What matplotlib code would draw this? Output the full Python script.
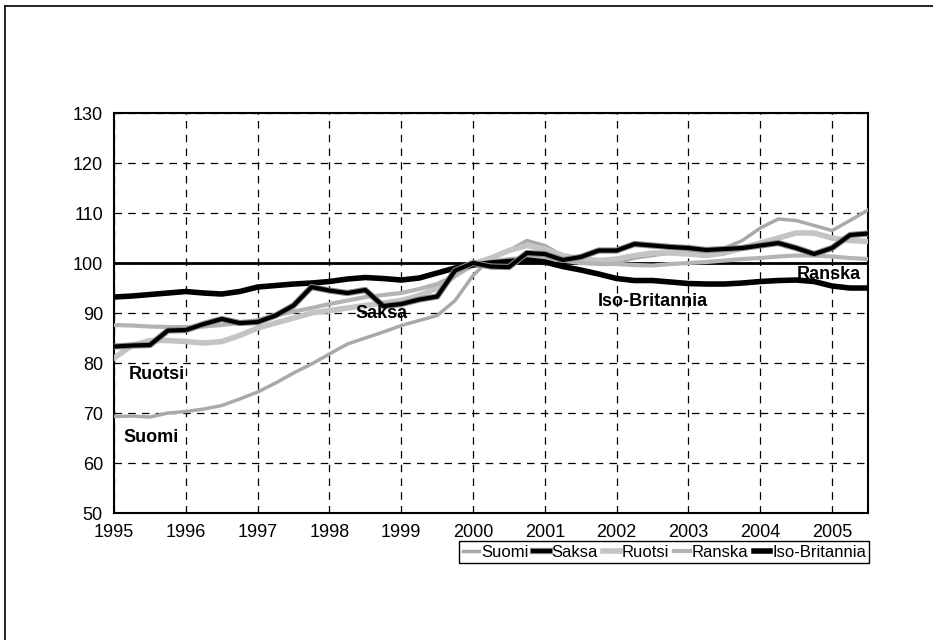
import numpy as np
import matplotlib
matplotlib.use("Agg")
import matplotlib.pyplot as plt
import matplotlib.patheffects as pe
from matplotlib.lines import Line2D

plt.rcParams["font.family"] = ["Liberation Sans", "DejaVu Sans"]

# quarterly time axis, 1995Q1 .. 2005Q3 (index 2000 = 100)
years = np.arange(1995.0, 2005.51, 0.25)

suomi = [69.3, 69.4, 69.2, 70.0, 70.3, 70.8, 71.5, 72.8, 74.2, 76.0, 78.0, 79.8,
         81.8, 83.8, 85.0, 86.2, 87.5, 88.5, 89.5, 92.5, 97.5, 101.0, 102.5, 104.5,
         103.5, 101.5, 100.5, 100.0, 100.0, 101.0, 101.5, 102.0, 102.0, 102.5, 103.0,
         104.5, 107.0, 108.8, 108.5, 107.5, 106.5, 108.5, 110.6]
saksa = [83.3, 83.5, 83.6, 86.5, 86.6, 87.8, 88.8, 88.0, 88.2, 89.5, 91.5, 95.2,
         94.5, 94.0, 94.6, 91.4, 91.8, 92.7, 93.3, 98.5, 100.0, 99.3, 99.2, 102.0,
         101.8, 100.6, 101.2, 102.5, 102.5, 103.8, 103.5, 103.2, 103.0, 102.6, 102.8,
         103.0, 103.5, 104.0, 103.0, 101.8, 103.0, 105.6, 105.9]
ruotsi = [81.0, 83.5, 84.5, 84.5, 84.3, 84.0, 84.3, 85.5, 87.0, 88.0, 89.0, 90.0,
          90.5, 91.0, 91.5, 92.0, 92.5, 93.5, 95.0, 97.5, 99.8, 101.0, 102.5, 103.5,
          102.8, 101.5, 100.8, 100.5, 100.8, 101.5, 102.0, 102.0, 101.8, 101.5, 102.0,
          103.0, 104.0, 105.0, 106.0, 106.0, 105.0, 104.5, 104.3]
ranska = [87.6, 87.5, 87.3, 87.2, 87.2, 87.3, 87.6, 88.0, 88.6, 89.5, 90.3, 91.0,
          91.8, 92.5, 93.2, 93.6, 94.0, 94.8, 95.8, 97.5, 99.5, 100.3, 100.8, 101.0,
          101.0, 100.5, 100.0, 99.8, 99.8, 99.6, 99.5, 99.8, 100.0, 100.2, 100.5,
          100.8, 101.0, 101.3, 101.5, 101.5, 101.3, 101.0, 100.8]
iso_britannia = [93.2, 93.4, 93.7, 94.0, 94.3, 94.0, 93.8, 94.3, 95.2, 95.5, 95.8, 96.0,
                 96.3, 96.8, 97.1, 96.9, 96.6, 97.0, 98.0, 99.0, 99.6, 100.0, 100.3, 100.6,
                 100.2, 99.3, 98.6, 97.8, 96.9, 96.5, 96.5, 96.2, 95.9, 95.8, 95.8,
                 96.0, 96.3, 96.5, 96.6, 96.3, 95.4, 95.0, 95.0]

names = ["Suomi", "Saksa", "Ruotsi", "Ranska", "Iso-Britannia"]
label_pos = {"Ruotsi": (1995.2, 77.8), "Suomi": (1995.13, 65.2), "Saksa": (1998.36, 90.0),
             "Iso-Britannia": (2001.73, 92.4), "Ranska": (2004.51, 97.8)}

fig = plt.figure(figsize=(9.33, 6.4), dpi=100)
ax = fig.add_axes([0.1222, 0.1984, 0.8081, 0.625])

# outer frame of the picture
fig.add_artist(Line2D([0.005, 0.005], [0.0, 0.99], color="black", lw=1.2, transform=fig.transFigure))
fig.add_artist(Line2D([0.005, 1.0], [0.99, 0.99], color="black", lw=1.2, transform=fig.transFigure))

ax.axhline(100, color="black", lw=2, zorder=2)

styles = {
    "Suomi": dict(color="#a9a9a9", lw=2.5),
    "Saksa": dict(color="black", lw=3.0,
                  path_effects=[pe.Stroke(linewidth=4.5, foreground="#8c8c8c"), pe.Normal()]),
    "Ruotsi": dict(color="#c4c4c4", lw=4),
    "Ranska": dict(color="#b4b4b4", lw=3),
    "Iso-Britannia": dict(color="black", lw=4),
}
data = {"Suomi": suomi, "Saksa": saksa, "Ruotsi": ruotsi, "Ranska": ranska,
        "Iso-Britannia": iso_britannia}
order = ["Suomi", "Ruotsi", "Ranska", "Iso-Britannia", "Saksa"]
handles = {}
for name in order:
    line, = ax.plot(years, data[name], label=name, zorder=3, **styles[name])
    handles[name] = line

for name, (x, y) in label_pos.items():
    ax.text(x, y, name, fontsize=13, fontweight="bold", ha="left", va="center", zorder=5)

ax.set_xlim(1995, 2005.5)
ax.set_ylim(50, 130)
ax.set_xticks(range(1995, 2006))
ax.set_yticks(range(50, 131, 10))
ax.tick_params(labelsize=13, length=0, pad=8)
ax.grid(True, color="black", linestyle=(0, (6, 5)), lw=0.9)
for s in ax.spines.values():
    s.set_linewidth(1.5)

leg = fig.legend([handles[n] for n in names], names, loc="center",
                 bbox_to_anchor=(0.712, 0.137), ncol=5, fontsize=12,
                 handlelength=1.0, handletextpad=0.1, columnspacing=0.3,
                 borderpad=0.2, fancybox=False, edgecolor="black", framealpha=1)
leg.get_frame().set_linewidth(1.0)

fig.savefig("out.png", dpi=100)
